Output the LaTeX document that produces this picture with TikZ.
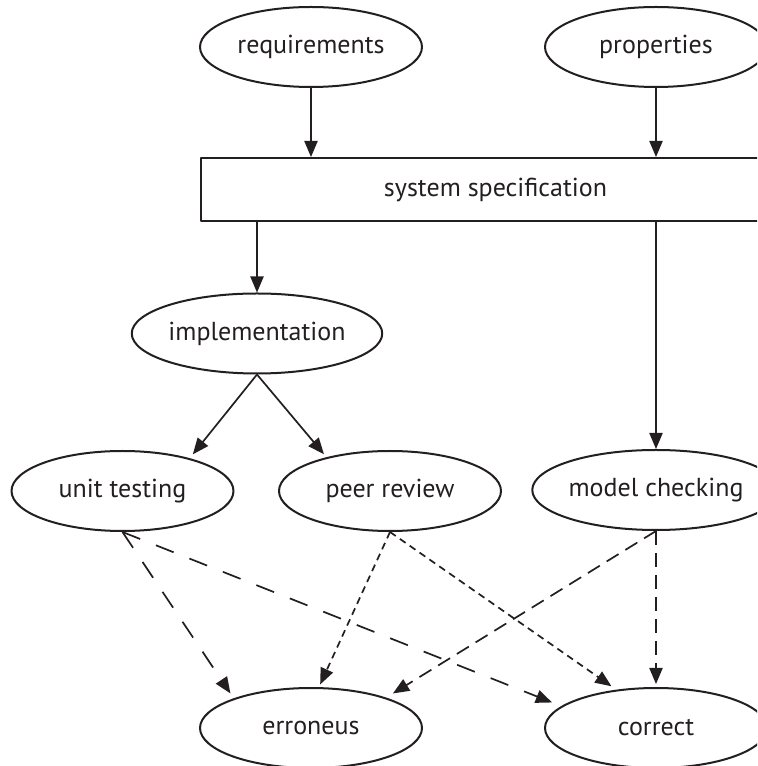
\documentclass[tikz,border=0pt]{standalone}
\usepackage{fontspec}
\setmainfont{PT Sans}
\usepackage{tikz}
\usetikzlibrary{arrows}
\usetikzlibrary{shapes.geometric}
\definecolor{ink}{HTML}{231F20}

\begin{document}
\begin{tikzpicture}[x=0.5pt,y=0.5pt,line join=round,>=triangle 45,
  every node/.style={font=\fontsize{13}{15}\selectfont,text=ink},
  task/.style={ellipse,draw=ink,line width=1pt,inner sep=0pt,minimum width=111pt,minimum height=40pt},
  specbox/.style={rectangle,draw=ink,line width=1pt,inner sep=0pt,minimum width=294.5pt,minimum height=31.5pt},
  flow/.style={->,draw=ink,line width=0.85pt},
  longdash/.style={flow,dash pattern=on 9.5pt off 8.5pt},
  shortdash/.style={flow,dash pattern=on 3.5pt off 2.5pt},
  middash/.style={flow,dash pattern=on 7pt off 4pt}]
\useasboundingbox (0,0) rectangle (757,766);
\clip (0,0) rectangle (757,766);
\node[task] (req) at (311,719) {requirements};
\node[task] (prop) at (656,719) {properties};
\node[specbox] (spec) at (495.5,576.5) {system specification};
\node[task] (impl) at (257,432.5) {implementation};
\node[task] (unit) at (122.5,275) {unit testing};
\node[task] (peer) at (390,275) {peer review};
\node[task] (model) at (656,276) {model checking};
\node[task] (err) at (311,38) {erroneus};
\node[task] (corr) at (656,38) {correct};
\draw[flow] (req) -- (req |- spec.north);
\draw[flow] (prop) -- (prop |- spec.north);
\draw[flow] (impl |- spec.south) -- (impl);
\draw[flow] (model |- spec.south) -- (model);
\draw[flow,shorten >=2.5pt] (impl.south) -- (unit.26);
\draw[flow,shorten >=2pt] (impl.south) -- (peer.152);
\draw[longdash,shorten >=3pt] (unit.south) -- (err.159);
\draw[longdash,shorten >=5pt] (unit.south) -- (corr.167);
\draw[shortdash,shorten >=1.5pt] (peer.south) -- (err.79);
\draw[shortdash,shorten >=3pt] (peer.south) -- (corr.136);
\draw[middash,shorten >=4pt] (model.south) -- (err.22);
\draw[middash,shorten >=1.5pt] (model.south) -- (corr.north);
\end{tikzpicture}
\end{document}
